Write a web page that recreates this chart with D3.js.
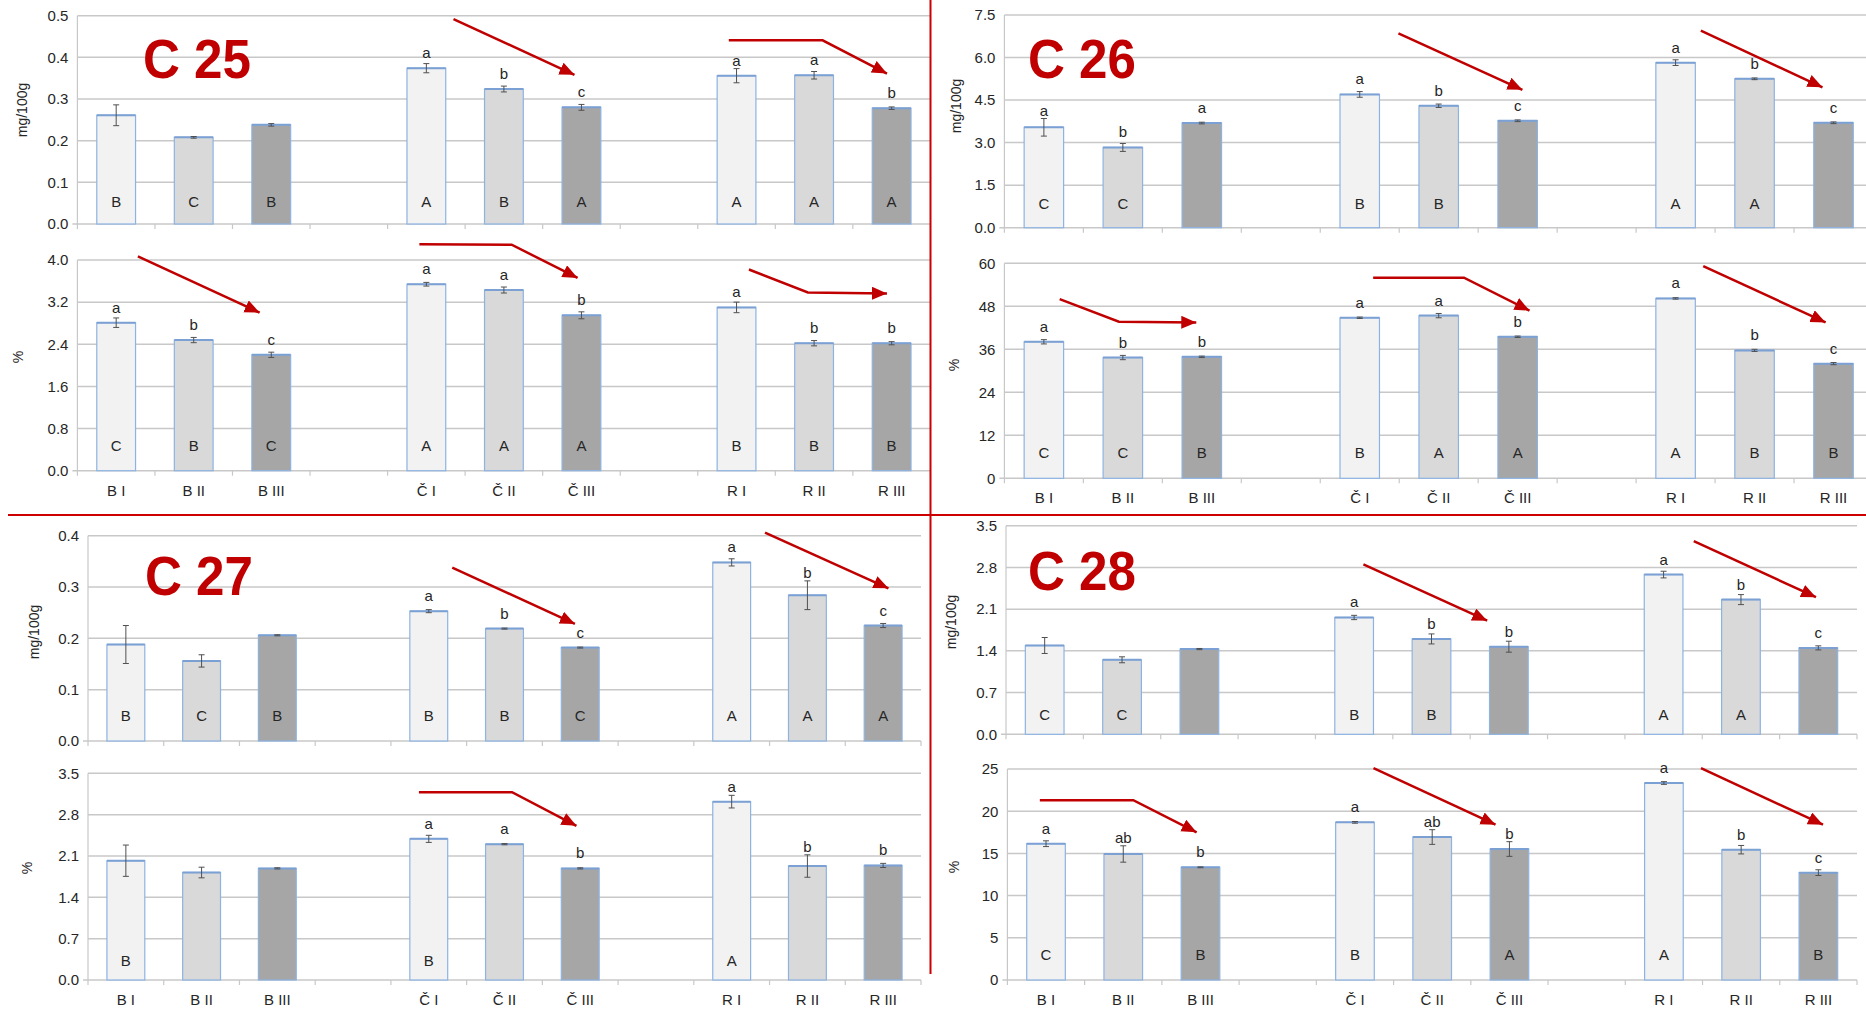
<!DOCTYPE html>
<html><head><meta charset="utf-8">
<script src="https://cdn.jsdelivr.net/npm/d3@7"></script>
<style>
body{margin:0;background:#fff}
svg{display:block}
text{font-family:"Liberation Sans",Arial,sans-serif;fill:#262626}
</style>
</head><body>
<svg id="chart" width="1866" height="1009"></svg>
<script>
// ---------- DATA ----------
const slots = ["B I","B II","B III","gap1","Č I","Č II","Č III","gap2","R I","R II","R III"];
const barCategories = ["B I","B II","B III","Č I","Č II","Č III","R I","R II","R III"];
const tickLabels = {"B I":"B I","B II":"B II","B III":"B III","gap1":"","Č I":"Č I","Č II":"Č II","Č III":"Č III","gap2":"","R I":"R I","R II":"R II","R III":"R III"};

// C25
const c25_mg = [0.261,0.208,0.238,0.374,0.324,0.280,0.356,0.357,0.278];
const c25_mg_err = [0.025,0.002,0.003,0.011,0.007,0.007,0.017,0.009,0.003];
const c25_mg_up = ["","","","a","b","c","a","a","b"];
const c25_mg_low = ["B","C","B","A","B","A","A","A","A"];
const c25_mg_ticks = [0,0.1,0.2,0.3,0.4,0.5];
const c25_pct = [2.81,2.48,2.20,3.54,3.43,2.95,3.10,2.42,2.42];
const c25_pct_err = [0.09,0.05,0.05,0.035,0.057,0.066,0.10,0.05,0.03];
const c25_pct_up = ["a","b","c","a","a","b","a","b","b"];
const c25_pct_low = ["C","B","C","A","A","A","B","B","B"];
const c25_pct_ticks = [0,0.8,1.6,2.4,3.2,4.0];
// C26
const c26_mg = [3.54,2.83,3.69,4.70,4.30,3.77,5.82,5.25,3.70];
const c26_mg_err = [0.31,0.14,0.03,0.10,0.06,0.03,0.10,0.03,0.03];
const c26_mg_up = ["a","b","a","a","b","c","a","b","c"];
const c26_mg_low = ["C","C","","B","B","","A","A",""];
const c26_mg_ticks = [0,1.5,3.0,4.5,6.0,7.5];
const c26_pct = [38.1,33.7,33.9,44.8,45.4,39.5,50.2,35.7,32.0];
const c26_pct_err = [0.6,0.6,0.2,0.2,0.6,0.2,0.2,0.3,0.3];
const c26_pct_up = ["a","b","b","a","a","b","a","b","c"];
const c26_pct_low = ["C","C","B","B","A","A","A","B","B"];
const c26_pct_ticks = [0,12,24,36,48,60];
// C27
const c27_mg = [0.188,0.156,0.206,0.253,0.219,0.182,0.348,0.284,0.225];
const c27_mg_err = [0.037,0.012,0.001,0.003,0.001,0.001,0.007,0.028,0.004];
const c27_mg_up = ["","","","a","b","c","a","b","c"];
const c27_mg_low = ["B","C","B","B","B","C","A","A","A"];
const c27_mg_ticks = [0,0.1,0.2,0.3,0.4];
const c27_pct = [2.02,1.82,1.89,2.39,2.30,1.89,3.02,1.93,1.94];
const c27_pct_err = [0.265,0.09,0.01,0.06,0.01,0.01,0.107,0.19,0.035];
const c27_pct_up = ["","","","a","a","b","a","b","b"];
const c27_pct_low = ["B","","","B","","","A","",""];
const c27_pct_ticks = [0,0.7,1.4,2.1,2.8,3.5];
// C28
const c28_mg = [1.49,1.25,1.43,1.96,1.60,1.47,2.68,2.26,1.45];
const c28_mg_err = [0.134,0.05,0.01,0.036,0.084,0.092,0.056,0.084,0.034];
const c28_mg_up = ["","","","a","b","b","a","b","c"];
const c28_mg_low = ["C","C","","B","B","","A","A",""];
const c28_mg_ticks = [0,0.7,1.4,2.1,2.8,3.5];
const c28_pct = [16.15,14.93,13.35,18.68,16.94,15.52,23.34,15.44,12.72];
const c28_pct_err = [0.34,0.97,0.05,0.1,0.87,0.87,0.16,0.5,0.34];
const c28_pct_up = ["a","ab","b","a","ab","b","a","b","c"];
const c28_pct_low = ["C","","B","B","","A","A","","B"];
const c28_pct_ticks = [0,5,10,15,20,25];

// trend arrows: points as [slot position, value]
const c25_mg_arrows = [[[4.85,0.492],[6.41,0.358]], [[8.40,0.441],[9.61,0.441],[10.44,0.361]]];
const c25_pct_arrows = [[[0.78,4.07],[2.35,3.0]], [[4.41,4.30],[5.60,4.29],[6.45,3.66]], [[8.66,3.82],[9.42,3.385],[10.44,3.366]]];
const c26_mg_arrows = [[[4.99,6.85],[6.56,4.86]], [[8.82,6.95],[10.36,4.95]]];
const c26_pct_arrows = [[[0.70,50.0],[1.45,43.7],[2.43,43.5]], [[4.67,56.0],[5.82,56.0],[6.65,46.8]], [[8.85,59.2],[10.40,43.5]]];
const c27_mg_arrows = [[[4.81,0.338],[6.43,0.228]], [[8.94,0.406],[10.57,0.2975]]];
const c27_pct_arrows = [[[4.37,3.18],[5.60,3.18],[6.45,2.61]]];
const c28_mg_arrows = [[[4.62,2.85],[6.22,1.906]], [[8.89,3.24],[10.47,2.30]]];
const c28_pct_arrows = [[[0.42,21.3],[1.63,21.3],[2.45,17.5]], [[4.74,25.1],[6.32,18.4]], [[8.98,25.1],[10.56,18.4]]];

const panelTitles = ["C 25","C 26","C 27","C 28"];
const unitMg = "mg/100g", unitPct = "%";

// ---------- LAYOUT / STYLE ----------
const fills = {"I":"#f2f2f2","II":"#d9d9d9","III":"#a6a6a6"};
const RED = "#c00000";
const panels = [
  {v:c25_mg, e:c25_mg_err, up:c25_mg_up, low:c25_mg_low, ticks:c25_mg_ticks, fmt:".1f", arrows:c25_mg_arrows, unit:unitMg,
   x0:77.4, x1:930.4, yb:224, yt:15.7, unitPos:[22,110], lowOff:17, xlab:false},
  {v:c25_pct, e:c25_pct_err, up:c25_pct_up, low:c25_pct_low, ticks:c25_pct_ticks, fmt:".1f", arrows:c25_pct_arrows, unit:unitPct,
   x0:77.4, x1:930.4, yb:470.7, yt:260, unitPos:[18,357], lowOff:20, xlab:true},
  {v:c26_mg, e:c26_mg_err, up:c26_mg_up, low:c26_mg_low, ticks:c26_mg_ticks, fmt:".1f", arrows:c26_mg_arrows, unit:unitMg,
   x0:1004.4, x1:1873, yb:227.7, yt:15, unitPos:[956,106], lowOff:19, xlab:false},
  {v:c26_pct, e:c26_pct_err, up:c26_pct_up, low:c26_pct_low, ticks:c26_pct_ticks, fmt:"d", arrows:c26_pct_arrows, unit:unitPct,
   x0:1004.4, x1:1873, yb:478.3, yt:263.3, unitPos:[954,365], lowOff:20.5, xlab:true},
  {v:c27_mg, e:c27_mg_err, up:c27_mg_up, low:c27_mg_low, ticks:c27_mg_ticks, fmt:".1f", arrows:c27_mg_arrows, unit:unitMg,
   x0:88, x1:921, yb:741, yt:535.7, unitPos:[34,632], lowOff:20, xlab:false},
  {v:c27_pct, e:c27_pct_err, up:c27_pct_up, low:c27_pct_low, ticks:c27_pct_ticks, fmt:".1f", arrows:c27_pct_arrows, unit:unitPct,
   x0:88, x1:921, yb:980, yt:773.3, unitPos:[27,868], lowOff:14.5, xlab:true},
  {v:c28_mg, e:c28_mg_err, up:c28_mg_up, low:c28_mg_low, ticks:c28_mg_ticks, fmt:".1f", arrows:c28_mg_arrows, unit:unitMg,
   x0:1006, x1:1857, yb:734.3, yt:525.7, unitPos:[951,622], lowOff:14, xlab:false},
  {v:c28_pct, e:c28_pct_err, up:c28_pct_up, low:c28_pct_low, ticks:c28_pct_ticks, fmt:"d", arrows:c28_pct_arrows, unit:unitPct,
   x0:1007.4, x1:1857, yb:980, yt:769, unitPos:[954,867], lowOff:20.5, xlab:true}
];
const titlePos = [[143,78],[1028,78],[145,595],[1028,590]];

const svg = d3.select("#chart");
svg.append("defs").append("marker")
  .attr("id","ah").attr("markerUnits","userSpaceOnUse")
  .attr("markerWidth",16).attr("markerHeight",14)
  .attr("refX",15).attr("refY",6.5).attr("orient","auto")
  .append("path").attr("d","M0,0 L15,6.5 L0,13 Z").attr("fill",RED);

panels.forEach(p => {
  const g = svg.append("g");
  const x = d3.scaleBand().domain(slots).range([p.x0,p.x1]).paddingInner(0.5).paddingOuter(0.25);
  const xs = d3.scaleLinear().domain([0,slots.length]).range([p.x0,p.x1]);
  const y = d3.scaleLinear().domain([0,p.ticks[p.ticks.length-1]]).range([p.yb,p.yt]);

  // gridlines
  g.append("g").selectAll("line").data(p.ticks.filter(t=>t>0)).join("line")
    .attr("x1",p.x0).attr("x2",p.x1).attr("y1",d=>y(d)).attr("y2",d=>y(d))
    .attr("stroke","#c8c8c8").attr("stroke-width",1.5);
  // y axis
  const ya = g.append("g").attr("transform",`translate(${p.x0},0)`)
    .call(d3.axisLeft(y).tickValues(p.ticks).tickFormat(d3.format(p.fmt)).tickSize(0).tickPadding(9));
  ya.select(".domain").remove();
  ya.selectAll("text").style("font-size","15px").attr("fill","#262626").attr("font-family","Liberation Sans, Arial, sans-serif");
  g.append("line").attr("x1",p.x0).attr("x2",p.x0).attr("y1",p.yt).attr("y2",p.yb)
    .attr("stroke","#c8c8c8").attr("stroke-width",1.2);
  // x axis
  g.append("line").attr("x1",p.x0-5).attr("x2",p.x1).attr("y1",p.yb).attr("y2",p.yb)
    .attr("stroke","#c8c8c8").attr("stroke-width",1.5);
  g.append("g").selectAll("line").data(d3.range(slots.length+1)).join("line")
    .attr("x1",d=>xs(d)).attr("x2",d=>xs(d)).attr("y1",p.yb).attr("y2",p.yb+5)
    .attr("stroke","#c8c8c8").attr("stroke-width",1.2);
  if (p.xlab) {
    const xa = g.append("g").attr("transform",`translate(0,${p.yb})`)
      .call(d3.axisBottom(x).tickFormat(d=>tickLabels[d]).tickSize(0).tickPadding(14.5));
    xa.select(".domain").remove();
    xa.selectAll("text").style("font-size","15px").attr("fill","#262626").attr("font-family","Liberation Sans, Arial, sans-serif");
  }
  // unit label
  g.append("text").attr("transform",`translate(${p.unitPos[0]},${p.unitPos[1]}) rotate(-90)`)
    .attr("text-anchor","middle").attr("dy","0.35em").style("font-size","14px").text(p.unit);

  // bars
  const rows = barCategories.map((c,i)=>({c, v:p.v[i], e:p.e[i], up:p.up[i], low:p.low[i], lvl:c.split(" ")[1]}));
  g.append("g").selectAll("rect").data(rows).join("rect")
    .attr("x",d=>x(d.c)).attr("width",x.bandwidth())
    .attr("y",d=>y(d.v)).attr("height",d=>y(0)-y(d.v))
    .attr("fill",d=>fills[d.lvl]).attr("stroke","#8db3e2").attr("stroke-width",1.2);
  g.append("g").selectAll("line").data(rows).join("line")
    .attr("x1",d=>x(d.c)).attr("x2",d=>x(d.c)+x.bandwidth())
    .attr("y1",d=>y(d.v)).attr("y2",d=>y(d.v))
    .attr("stroke","#7ba0d4").attr("stroke-width",2);
  // error bars
  const eb = g.append("g").attr("stroke","#505050").attr("stroke-width",1);
  rows.forEach(d=>{
    const cx = x(d.c)+x.bandwidth()/2;
    eb.append("line").attr("x1",cx).attr("x2",cx).attr("y1",y(d.v-d.e)).attr("y2",y(d.v+d.e));
    eb.append("line").attr("x1",cx-3).attr("x2",cx+3).attr("y1",y(d.v-d.e)).attr("y2",y(d.v-d.e));
    eb.append("line").attr("x1",cx-3).attr("x2",cx+3).attr("y1",y(d.v+d.e)).attr("y2",y(d.v+d.e));
  });
  // letters
  g.append("g").selectAll("text").data(rows.filter(d=>d.up)).join("text")
    .attr("x",d=>x(d.c)+x.bandwidth()/2)
    .attr("y",d=>Math.min(y(d.v)-10, y(d.v+d.e)-3))
    .attr("text-anchor","middle").style("font-size","15px").text(d=>d.up);
  g.append("g").selectAll("text").data(rows.filter(d=>d.low)).join("text")
    .attr("x",d=>x(d.c)+x.bandwidth()/2).attr("y",y(0)-p.lowOff)
    .attr("text-anchor","middle").style("font-size","15px").text(d=>d.low);
  // arrows
  const line = d3.line().x(d=>xs(d[0])).y(d=>y(d[1]));
  g.append("g").selectAll("path").data(p.arrows).join("path")
    .attr("d",line).attr("fill","none").attr("stroke",RED).attr("stroke-width",2.5)
    .attr("marker-end","url(#ah)");
});

// separators
svg.append("line").attr("x1",930.5).attr("x2",930.5).attr("y1",0).attr("y2",974)
  .attr("stroke","#cc0000").attr("stroke-width",2);
svg.append("line").attr("x1",8).attr("x2",1866).attr("y1",515).attr("y2",515)
  .attr("stroke","#cc0000").attr("stroke-width",2);

// panel titles
svg.append("g").selectAll("text").data(panelTitles).join("text")
  .attr("x",(d,i)=>titlePos[i][0]).attr("y",(d,i)=>titlePos[i][1])
  .attr("textLength",108).attr("lengthAdjust","spacingAndGlyphs")
  .style("font-size","55px").style("font-weight","bold").style("fill",RED)
  .text(d=>d);
</script>
</body></html>
